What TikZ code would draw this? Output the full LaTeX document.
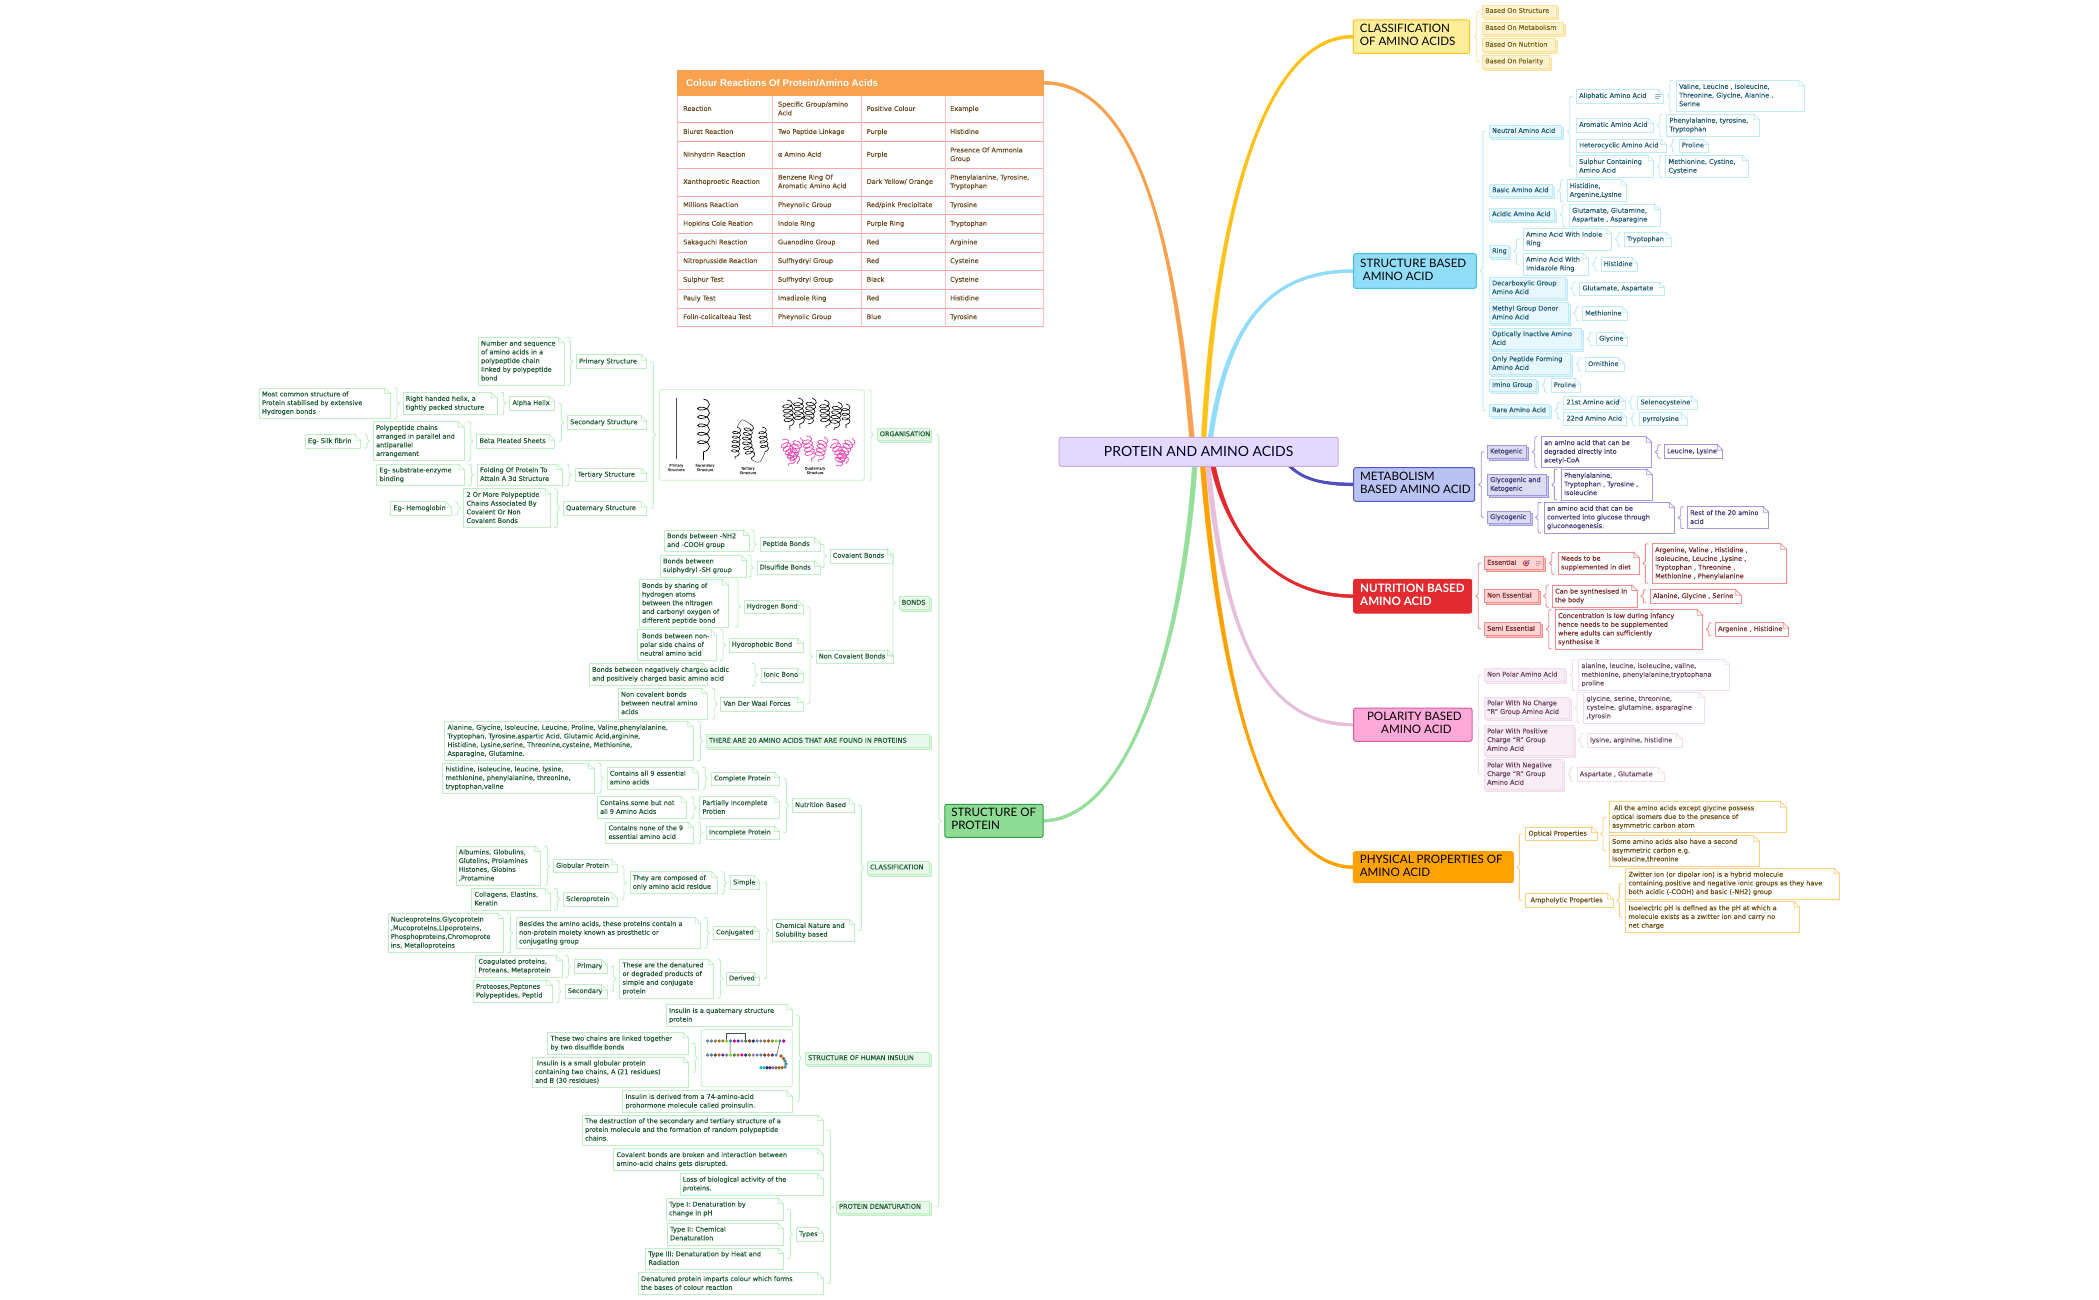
\documentclass[tikz,border=0pt]{standalone}
\usepackage{fontspec}
\setmainfont{DejaVu Sans}[FakeBold=0.22]
\newfontfamily\ttl{Lato}
\newfontfamily\hdr{Liberation Sans}
\usetikzlibrary{calc,backgrounds,decorations.pathmorphing}
\newcommand\sm{\fontsize{6.55}{8.7}\selectfont}
\definecolor{cb}{HTML}{BFF0C4}\definecolor{ct}{HTML}{1F5D34}\definecolor{cf}{HTML}{E8F8EA}
\definecolor{tabt}{HTML}{6B4A20}\definecolor{tabl}{HTML}{FFA3A3}\definecolor{pinkc}{HTML}{E64FB4}
\definecolor{rootb}{HTML}{CDA9E0}\definecolor{rootf}{HTML}{E3D9FE}
\definecolor{yb}{HTML}{FFC21C}\definecolor{yf}{HTML}{FFEE99}
\definecolor{bb}{HTML}{3FC0EA}\definecolor{bf}{HTML}{8FDDF8}
\definecolor{ib}{HTML}{5656C8}\definecolor{if}{HTML}{B9C3F3}
\definecolor{rb}{HTML}{E32B2F}
\definecolor{pb}{HTML}{DD5C9E}\definecolor{pf}{HTML}{FFA9D8}
\definecolor{ob}{HTML}{FFA200}
\definecolor{gb}{HTML}{2E9E46}\definecolor{gf}{HTML}{8EDC94}
\definecolor{tabh}{HTML}{F8A24F}
\definecolor{cy}{HTML}{FFC21C}\definecolor{cbl}{HTML}{91DCFA}\definecolor{cin}{HTML}{4F4FC0}
\definecolor{cre}{HTML}{E32B2F}\definecolor{cpi}{HTML}{E5BFDC}\definecolor{cor}{HTML}{FFA200}\definecolor{cgr}{HTML}{95DE9B}
\definecolor{tgt}{HTML}{2F7FD0}
\definecolor{d0}{HTML}{5E8CA8}\definecolor{d1}{HTML}{7B7B9B}\definecolor{d2}{HTML}{8C7A3C}\definecolor{d3}{HTML}{A5622C}
\definecolor{d4}{HTML}{6F8F3C}\definecolor{d5}{HTML}{9ACD32}\definecolor{d6}{HTML}{3E8E8E}\definecolor{d7}{HTML}{C000A0}
\definecolor{d8}{HTML}{5B2A86}\definecolor{d9}{HTML}{8E7CC3}\definecolor{d10}{HTML}{4B7F4B}\definecolor{d11}{HTML}{7A3B2E}
\definecolor{d12}{HTML}{2E2E5C}\definecolor{d13}{HTML}{22B8C8}
\newcommand\celltxt[1]{\raisebox{-1.1pt}{\begin{tabular}{@{}l@{}}#1\end{tabular}}}
\tikzset{
 boxbase/.style={rectangle,outer sep=0pt,inner sep=0pt,font=\sm,text=ct,line width=0.8pt},
 brc/.style={draw=cb,line width=0.9pt,line join=round},
 cell/.style={anchor=west,inner sep=0pt,font=\sm,text=tabt},
 titlebox/.style={rectangle,outer sep=0pt,inner sep=0pt,rounded corners=2pt,line width=1pt,font=\ttl\fontsize{11.6}{13}\selectfont},
 tinylab/.style={font=\fontsize{3.6}{4.4}\selectfont,align=center,inner sep=0pt,text=black!70},
 coilb/.style={decorate,decoration={coil,aspect=.55,segment length=4.6pt,amplitude=#1},draw=black,line width=0.6pt},
 coilc/.style={decorate,decoration={coil,aspect=.55,segment length=8.4pt,amplitude=#1},draw=black,line width=0.7pt},
 coilp/.style={decorate,decoration={coil,aspect=.55,segment length=4pt,amplitude=#1},draw=pinkc,line width=0.7pt}
}
% note box: white with folded corner
\newcommand\nbx[6]{%
 \pgfmathsetmacro\bw{#4-#2}\pgfmathsetmacro\bh{#5-#3}%
 \node[boxbase,draw=cb,fill=white,minimum width=\bw pt,minimum height=\bh pt] (#1) at ({(#2+#4)/2},{(#3+#5)/2})
   {\makebox[\bw pt][l]{\hspace{2.8pt}\celltxt{#6}}};
 \fill[white] ($(#1.north east)+(-5.5,-0.6)$) -- ($(#1.north east)+(0.6,-0.6)$) -- ($(#1.north east)+(0.6,5.5)$) -- cycle;
 \draw[cb,line width=0.7pt] ($(#1.north east)+(-5.5,0)$) -- ($(#1.north east)+(0,5.5)$) -- ($(#1.north east)+(-5.5,5.5)$) -- cycle;
}
% filled box with offset shadow (coordinates include the shadow)
\newcommand\fbx[6]{%
 \pgfmathsetmacro\bw{#4-#2-2}\pgfmathsetmacro\bh{#5-#3-2}%
 \draw[cb,fill=cf!75!cb,line width=0.7pt] (#2+2,#3+2) rectangle (#4,#5);
 \node[boxbase,draw=cb,fill=cf,minimum width=\bw pt,minimum height=\bh pt] (#1) at ({(#2+#4-2)/2},{(#3+#5-2)/2})
   {\makebox[\bw pt][l]{\hspace{2.8pt}\celltxt{#6}}};
}
% main topic box
\newcommand\mbx[9]{%
 \pgfmathsetmacro\bw{#4-#2}\pgfmathsetmacro\bh{#5-#3}%
 \node[titlebox,draw=#7,fill=#6,text=#8,minimum width=\bw pt,minimum height=\bh pt] (#1) at ({(#2+#4)/2},{(#3+#5)/2})
   {\makebox[\bw pt][l]{\hspace{6.5pt}\celltxt{#9}}};
}
% braces: parent to the right of its children
\newcommand\BL[3]{\draw[brc] let \p1=(#1.west),\p2=(#2.center),\p3=(#3.center) in
 (\x1-9pt,\y2) .. controls (\x1-6pt,\y2) .. (\x1-6pt,\y2-3pt) -- (\x1-6pt,\y1+2pt) -- (\x1-3.5pt,\y1) -- (\x1-6pt,\y1-2pt) -- (\x1-6pt,\y3+3pt) .. controls (\x1-6pt,\y3) .. (\x1-9pt,\y3);}
\newcommand\BLs[2]{\draw[brc] let \p1=(#1.west),\p2=(#2.north),\p3=(#2.south) in
 (\x1-9pt,\y2) .. controls (\x1-6pt,\y2) .. (\x1-6pt,\y2-3pt) -- (\x1-6pt,\y1+2pt) -- (\x1-3.5pt,\y1) -- (\x1-6pt,\y1-2pt) -- (\x1-6pt,\y3+3pt) .. controls (\x1-6pt,\y3) .. (\x1-9pt,\y3);}
% braces: parent to the left of its children
\newcommand\BR[4][6]{\draw[brc] let \p1=(#2.east),\p2=(#3.center),\p3=(#4.center) in
 (\x1+#1pt+3pt,\y2) .. controls (\x1+#1pt,\y2) .. (\x1+#1pt,\y2-3pt) -- (\x1+#1pt,\y1+2pt) -- (\x1+#1pt-2.5pt,\y1) -- (\x1+#1pt,\y1-2pt) -- (\x1+#1pt,\y3+3pt) .. controls (\x1+#1pt,\y3) .. (\x1+#1pt+3pt,\y3);}
\newcommand\BRs[3][6]{\draw[brc] let \p1=(#2.east),\p2=(#3.north),\p3=(#3.south) in
 (\x1+#1pt+3pt,\y2) .. controls (\x1+#1pt,\y2) .. (\x1+#1pt,\y2-3pt) -- (\x1+#1pt,\y1+2pt) -- (\x1+#1pt-2.5pt,\y1) -- (\x1+#1pt,\y1-2pt) -- (\x1+#1pt,\y3+3pt) .. controls (\x1+#1pt,\y3) .. (\x1+#1pt+3pt,\y3);}
% tapered branch
\newcommand\cur[5]{\draw[#1,line width=3pt] (#2) .. controls (#3) and (#4) .. (#5);
 \draw[#1,fill=#1,line width=0.2pt] ($(#2)+(-2.5,0)$) .. controls ($(#3)+(-2.5,0)$) and ($(#4)+(0,-1.5)$) .. ($(#5)+(0,-1.5)$) -- ($(#5)+(0,1.5)$) .. controls ($(#4)+(0,1.5)$) and ($(#3)+(2.5,0)$) .. ($(#2)+(2.5,0)$) -- cycle;}
\newcounter{trc}
\newcommand\trow[6]{\stepcounter{trc}%
 \node[cell] (r\arabic{trc}a) at (683,{(#1+#2)/2}) {\celltxt{#3}};
 \node[cell] (r\arabic{trc}b) at (777.8,{(#1+#2)/2}) {\celltxt{#4}};
 \node[cell] (r\arabic{trc}c) at (866.5,{(#1+#2)/2}) {\celltxt{#5}};
 \node[cell] (r\arabic{trc}d) at (950,{(#1+#2)/2}) {\celltxt{#6}};
}
\begin{document}
\begin{tikzpicture}[x=1pt,y=-1pt]
\useasboundingbox (0,0) rectangle (2099,1300);
\begin{pgfonlayer}{background}\fill[white] (0,0) rectangle (2099,1300);\end{pgfonlayer}

% ---------- main nodes
\node[titlebox,draw=rootb,fill=rootf,text=black!85!blue,minimum width=279pt,minimum height=29pt,font=\ttl\fontsize{14}{15}\selectfont] (root) at (1198.6,451.8) {\raisebox{-0.8pt}{PROTEIN AND AMINO ACIDS}};
\mbx{mclass}{1353.3}{20}{1469.7}{53.3}{yf}{yb}{black}{CLASSIFICATION\\OF AMINO ACIDS}
\mbx{mstruct}{1353.7}{253.7}{1476.3}{288.3}{bf}{bb}{black}{STRUCTURE BASED\\\hspace*{2.7pt}AMINO ACID}
\mbx{mmeta}{1353.7}{467.7}{1474.7}{501.3}{if}{ib}{black}{METABOLISM\\BASED AMINO ACID}
\mbx{mnutr}{1353.7}{579.3}{1471.7}{613}{rb}{rb}{white}{\bfseries NUTRITION BASED\\\bfseries AMINO ACID}
\mbx{mpol}{1353.7}{708}{1472}{741.3}{pf}{pb}{black}{\hspace*{6.8pt}POLARITY BASED\\\hspace*{21pt}AMINO ACID}
\mbx{mphys}{1353.3}{851.7}{1513.3}{882.7}{ob}{ob}{black}{PHYSICAL PROPERTIES OF\\AMINO ACID}
\mbx{mprot}{944.8}{804.3}{1043}{837.3}{gf}{gb}{black}{STRUCTURE OF\\PROTEIN}

% ---------- table
\node[rectangle,fill=tabh,outer sep=0pt,inner sep=0pt,minimum width=366.4pt,minimum height=25.7pt] (thead) at (860.5,82.85) {};
\node[anchor=west,inner sep=0pt,text=white,font=\hdr\bfseries\fontsize{9.7}{11}\selectfont] (ttitle) at (686,83) {Colour Reactions Of Protein/Amino Acids};
\foreach \y in {122.7,141.7,168.3,196,214.7,233.3,252,270.7,289.3,308,326.7}{\draw[tabl,line width=0.7pt] (677.3,\y) -- (1043.7,\y);}
\foreach \x in {677.3,772.7,861.3,945,1043.7}{\draw[tabl!70,line width=0.8pt] (\x,95.7) -- (\x,326.7);}
\trow{95.7}{122.7}{Reaction}{Specific Group/amino\\Acid}{Positive Colour}{Example}
\trow{122.7}{141.7}{Biuret Reaction}{Two Peptide Linkage}{Purple}{Histidine}
\trow{141.7}{168.3}{Ninhydrin Reaction}{α Amino Acid}{Purple}{Presence Of Ammonia\\Group}
\trow{168.3}{196}{Xanthoproetic Reaction}{Benzene Ring Of\\Aromatic Amino Acid}{Dark Yellow/ Orange}{Phenylalanine, Tyrosine,\\Tryptophan}
\trow{196}{214.7}{Millions Reaction}{Pheynolic Group}{Red/pink Precipitate}{Tyrosine}
\trow{214.7}{233.3}{Hopkins Cole Reation}{Indole Ring}{Purple Ring}{Tryptophan}
\trow{233.3}{252}{Sakaguchi Reaction}{Guanodino Group}{Red}{Arginine}
\trow{252}{270.7}{Nitroprusside Reaction}{Sulfhydryl Group}{Red}{Cysteine}
\trow{270.7}{289.3}{Sulphur Test}{Sulfhydryl Group}{Black}{Cysteine}
\trow{289.3}{308}{Pauly Test}{Imadizole Ring}{Red}{Histidine}
\trow{308}{326.7}{Folin-colicalteau Test}{Pheynolic Group}{Blue}{Tyrosine}

% ---------- classification (yellow)
\definecolor{cb}{HTML}{FFE29A}\definecolor{ct}{HTML}{7A6418}\definecolor{cf}{HTML}{FFF3CF}
\fbx{c1}{1482.3}{5}{1558.7}{19.3}{Based On Structure}
\fbx{c2}{1482.3}{22}{1565.7}{36.3}{Based On Metabolism}
\fbx{c3}{1482.3}{38.7}{1557.3}{53.3}{Based On Nutrition}
\fbx{c4}{1482.3}{55.3}{1551.7}{70}{Based On Polarity}
\BR[7]{mclass}{c1}{c4}

% ---------- structure based (blue)
\definecolor{cb}{HTML}{BDEBFC}\definecolor{ct}{HTML}{1F5C74}\definecolor{cf}{HTML}{E6F7FE}
\fbx{s1}{1489.3}{125}{1563.7}{139.3}{Neutral Amino Acid}
\nbx{s1a}{1576.3}{89.3}{1663.7}{103}{Aliphatic Amino Acid}
\nbx{s1a1}{1676.3}{80.3}{1804.3}{111.3}{Valine, Leucine , Isoleucine,\\Threonine, Glycine, Alanine ,\\Serine}
\nbx{s1b}{1576.3}{118.3}{1653.7}{132}{Aromatic Amino Acid}
\nbx{s1b1}{1666.7}{114.3}{1759.3}{136.3}{Phenylalanine, tyrosine,\\Tryptophan}
\nbx{s1c}{1576.3}{139}{1666.3}{152.3}{Heterocyclic Amino Acid}
\nbx{s1c1}{1679}{139}{1708.7}{152.3}{Proline}
\nbx{s1d}{1576.3}{155.3}{1653.7}{177.7}{Sulphur Containing\\Amino Acid}
\nbx{s1d1}{1665.7}{155.3}{1748}{177.7}{Methionine, Cystine,\\Cysteine}
\fbx{s2}{1489.3}{184.3}{1554.3}{198.7}{Basic Amino Acid}
\nbx{s21}{1567}{179.7}{1626.7}{201.7}{Histidine,\\Argenine,Lysine}
\fbx{s3}{1489.3}{208.3}{1556.7}{222.7}{Acidic Amino Acid}
\nbx{s31}{1569.3}{204}{1660}{226.7}{Glutamate, Glutamine,\\Aspartate , Asparagine}
\fbx{s4}{1489.3}{245.3}{1510.3}{259.3}{Ring}
\nbx{s4a}{1523.3}{228.3}{1611.7}{250.3}{Amino Acid With Indole\\Ring}
\nbx{s4a1}{1624.3}{232.7}{1671.7}{246.3}{Tryptophan}
\nbx{s4b}{1523.3}{253.3}{1588.7}{275.3}{Amino Acid With\\Imidazole Ring}
\nbx{s4b1}{1601}{257.7}{1637.7}{271}{Histidine}
\fbx{s5}{1489.3}{277.3}{1567}{300.7}{Decarboxylic Group\\Amino Acid}
\nbx{s51}{1579.7}{282}{1664.7}{295.3}{Glutamate, Aspartate}
\fbx{s6}{1489.3}{302.7}{1570}{325.7}{Methyl Group Donor\\Amino Acid}
\nbx{s61}{1582.3}{306.7}{1627.7}{320.7}{Methionine}
\fbx{s7}{1489.3}{328.3}{1583.7}{351.3}{Optically Inactive Amino\\Acid}
\nbx{s71}{1596.3}{332}{1627.7}{345.7}{Glycine}
\fbx{s8}{1489.3}{353.3}{1572.7}{376.3}{Only Peptide Forming\\Amino Acid}
\nbx{s81}{1585.3}{357.7}{1624.3}{371}{Ornithine}
\fbx{s9}{1489.3}{379.3}{1538.3}{393.3}{Imino Group}
\nbx{s91}{1551}{378.7}{1580.7}{392.3}{Proline}
\fbx{s10}{1489.3}{404.3}{1551.3}{418.7}{Rare Amino Acid}
\nbx{s10a}{1563.7}{396}{1625}{409.3}{21st Amino acid}
\nbx{s10a1}{1637.7}{396}{1697}{409.3}{Selenocysteine}
\nbx{s10b}{1563.7}{412}{1626.7}{425.7}{22nd Amino Acid}
\nbx{s10b1}{1639.7}{412.7}{1687}{425.7}{pyrrolysine}
\BR[6.5]{mstruct}{s1}{s10}
\BR[8]{s1}{s1a}{s1d}
\BRs{s1a}{s1a1}\BRs{s1b}{s1b1}\BRs{s1c}{s1c1}\BRs{s1d}{s1d1}
\BRs[8]{s2}{s21}\BRs[8]{s3}{s31}\BR[8]{s4}{s4a}{s4b}\BRs{s4a}{s4a1}\BRs{s4b}{s4b1}
\BRs[8]{s5}{s51}\BRs[8]{s6}{s61}\BRs[8]{s7}{s71}\BRs[8]{s8}{s81}\BRs[8]{s9}{s91}
\BR[8]{s10}{s10a}{s10b}\BRs{s10a}{s10a1}\BRs{s10b}{s10b1}
\draw[ct!45,line width=0.6pt] (1655,94) -- (1660.7,94) (1655,96) -- (1660.7,96) (1655,98) -- (1658.5,98);

% ---------- metabolism (indigo)
\definecolor{cb}{HTML}{9C99DD}\definecolor{ct}{HTML}{3B3775}\definecolor{cf}{HTML}{DCDBF2}
\fbx{k1}{1487.3}{445.3}{1528.7}{460}{Ketogenic}
\nbx{k11}{1541.3}{436.7}{1651.7}{467.3}{an amino acid that can be\\degraded directly into\\acetyl-CoA}
\nbx{k12}{1664.3}{444.7}{1722.7}{458.3}{Leucine, Lysine}
\fbx{k2}{1487.3}{474}{1548.3}{497.3}{Glycogenic and\\Ketogenic}
\nbx{k21}{1561.3}{469.3}{1652.3}{500}{Phenylalanine,\\Tryptophan , Tyrosine ,\\Isoleucine}
\fbx{k3}{1487.3}{511}{1532}{525.7}{Glycogenic}
\nbx{k31}{1544.3}{502.3}{1674.7}{533}{an amino acid that can be\\converted into glucose through\\gluconeogenesis.}
\nbx{k32}{1687.3}{506.7}{1768.7}{528.7}{Rest of the 20 amino\\acid}
\BR[6.5]{mmeta}{k1}{k3}
\BRs[8]{k1}{k11}\BRs{k11}{k12}\BRs[8]{k2}{k21}\BRs[8]{k3}{k31}\BRs{k31}{k32}

% ---------- nutrition (red)
\definecolor{cb}{HTML}{F58C8C}\definecolor{ct}{HTML}{7A2A2A}\definecolor{cf}{HTML}{FBD3D3}
\fbx{n1}{1484.3}{556.3}{1545.7}{571.7}{Essential}
\nbx{n11}{1558.3}{552.3}{1639.3}{574.3}{Needs to be\\supplemented in diet}
\nbx{n12}{1652.3}{543.7}{1786.3}{583.3}{Argenine, Valine , Histidine ,\\Isoleucine, Leucine ,Lysine ,\\Tryptophan , Threonine ,\\Methionine , Phenylalanine}
\fbx{n2}{1484.3}{589.3}{1540}{604.3}{Non Essential}
\nbx{n21}{1552.3}{585}{1637.3}{607.3}{Can be synthesised in\\the body}
\nbx{n22}{1650.3}{589.7}{1741.3}{603}{Alanine, Glycine , Serine}
\fbx{n3}{1484.3}{622.3}{1542.7}{637.7}{Semi Essential}
\nbx{n31}{1555.3}{609.7}{1702.7}{649}{Concentration is low during infancy\\hence needs to be supplemented\\where adults can sufficiently\\synthesise it}
\nbx{n32}{1715.3}{622.7}{1788.7}{636}{Argenine , Histidine}
\BR[6.5]{mnutr}{n1}{n3}
\BRs[8]{n1}{n11}\BRs{n11}{n12}\BRs[8]{n2}{n21}\BRs{n21}{n22}\BRs[8]{n3}{n31}\BRs{n31}{n32}
\draw[rb,line width=0.7pt] (1526,563.3) circle (2.6pt) (1526,563.3) circle (1pt);
\draw[tgt,line width=0.7pt] (1526,563.3) -- (1529.5,560);
\draw[ct!45,line width=0.6pt] (1536,561.3) -- (1541,561.3) (1536,563.3) -- (1541,563.3) (1536,565.3) -- (1539,565.3);

% ---------- polarity (pink)
\definecolor{cb}{HTML}{F3DCEB}\definecolor{ct}{HTML}{6D4560}\definecolor{cf}{HTML}{F8EDF5}
\fbx{p1}{1484.3}{668.3}{1566.3}{683.3}{Non Polar Amino Acid}
\nbx{p11}{1578.7}{659.3}{1729.7}{690.7}{alanine, leucine, isoleucine, valine,\\methionine, phenylalanine,tryptophana\\proline}
\fbx{p2}{1484.3}{697}{1571}{720.7}{Polar With No Charge\\"R" Group Amino Acid}
\nbx{p21}{1583.7}{692.3}{1704.7}{723.3}{glycine, serine, threonine,\\cysteine, glutamine, asparagine\\,tyrosin}
\fbx{p3}{1484.3}{725.3}{1575}{757.3}{Polar With Positive\\Charge "R" Group\\Amino Acid}
\nbx{p31}{1587.3}{733.7}{1682}{747.3}{lysine, arginine, histidine}
\fbx{p4}{1484.3}{759.3}{1564.3}{791.3}{Polar With Negative\\Charge "R" Group\\Amino Acid}
\nbx{p41}{1577}{767.7}{1664}{781.3}{Aspartate , Glutamate}
\BR[6.5]{mpol}{p1}{p4}
\BRs[8]{p1}{p11}\BRs[8]{p2}{p21}\BRs[8]{p3}{p31}\BRs[8]{p4}{p41}

% ---------- physical (orange)
\definecolor{cb}{HTML}{FFCF7F}\definecolor{ct}{HTML}{6B4D10}\definecolor{cf}{HTML}{FFF3DC}
\nbx{h1}{1525.7}{827}{1597}{840.7}{Optical Properties}
\nbx{h11}{1609.3}{801.7}{1786}{832.7}{\hspace*{2pt}All the amino acids except glycine possess\\optical isomers due to the presence of\\asymmetric carbon atom}
\nbx{h12}{1609.3}{835.7}{1759.3}{866}{Some amino acids also have a second\\asymmetric carbon e.g.\\isoleucine,threonine}
\nbx{h2}{1525.7}{893.7}{1613.3}{907.3}{\hspace*{2pt}Ampholytic Properties}
\nbx{h21}{1625.7}{868.3}{1839.7}{899}{Zwitter ion (or dipolar ion) is a hybrid molecule\\containing positive and negative ionic groups as they have\\both acidic (-COOH) and basic (-NH2) group}
\nbx{h22}{1625.7}{901.7}{1799.7}{932.7}{Isoelectric pH is defined as the pH at which a\\molecule exists as a zwitter ion and carry no\\net charge}
\BR{mphys}{h1}{h2}\BR{h1}{h11}{h12}\BR{h2}{h21}{h22}

% ---------- structure of protein (green)
\definecolor{cb}{HTML}{BFF0C4}\definecolor{ct}{HTML}{1F5D34}\definecolor{cf}{HTML}{E8F8EA}
\fbx{org}{877}{428.3}{931.5}{442.7}{ORGANISATION}
\node[rectangle,rounded corners=2pt,draw=cb,fill=white,line width=0.8pt,outer sep=0pt,minimum width=205pt,minimum height=90.6pt] (orgimg) at (761.8,435) {};
\nbx{o1}{576.3}{354.7}{646.7}{368.7}{Primary Structure}
\nbx{o11}{478.3}{337.3}{564}{385.3}{Number and sequence\\of amino acids in a\\polypeptide chain\\linked by polypeptide\\bond}
\nbx{o2}{567.3}{415.7}{646.7}{429.3}{Secondary Structure}
\nbx{o2a}{509.7}{396.3}{554.7}{410.3}{Alpha Helix}
\nbx{o2a1}{403}{392.3}{497}{414.7}{Right handed helix, a\\tightly packed structure}
\nbx{o2a2}{259.3}{388}{390.3}{418.7}{Most common structure of\\Protein stabilised by extensive\\Hydrogen bonds}
\nbx{o2b}{476.7}{434.7}{554.7}{448}{Beta Pleated Sheets}
\nbx{o2b1}{373.3}{421.7}{464}{460.7}{Polypeptide chains\\arranged in parallel and\\antiparallel\\arrangement}
\nbx{o2b2}{305.3}{434.7}{360.7}{448}{Eg- Silk fibrin}
\nbx{o3}{575}{468}{646.7}{481.7}{Tertiary Structure}
\nbx{o31}{477.3}{464}{562.3}{485.7}{Folding Of Protein To\\Attain A 3d Structure}
\nbx{o32}{376.7}{464.3}{464.3}{485.7}{Eg- substrate-enzyme\\binding}
\nbx{o4}{563.3}{501.7}{646.7}{515}{Quaternary Structure}
\nbx{o41}{463.7}{488.7}{550.7}{527.7}{2 Or More Polypeptide\\Chains Associated By\\Covalent Or Non\\Covalent Bonds}
\nbx{o42}{390.7}{501.7}{451.3}{515}{Eg- Hemoglobin}
\BLs{org}{orgimg}\BL{orgimg}{o1}{o4}
\BLs{o1}{o11}\BL{o2}{o2a}{o2b}\BLs{o2a}{o2a1}\BLs{o2a1}{o2a2}\BLs{o2b}{o2b1}\BLs{o2b1}{o2b2}
\BLs{o3}{o31}\BLs{o31}{o32}\BLs{o4}{o41}\BLs{o41}{o42}

% picture: protein structure levels
\draw[black!70,line width=0.9pt] (676.3,398) -- (676.3,459);
\draw[coilc=6pt] (703.5,399) -- (703.5,460);
\node[tinylab] (lab1) at (676.3,467.5) {Primary\\Structure};
\node[tinylab] (lab2) at (705,467.5) {Secondary\\Structure};
\node[tinylab] (lab3) at (748,470.5) {Tertiary\\Structure};
\node[tinylab] (lab4) at (815,470.5) {Quaternary\\Structure};
\draw[coilb=4pt] (737,427) -- (735,459);
\draw[coilb=4.5pt] (750,424) .. controls (746,440) .. (752,460);
\draw[coilb=4pt] (762,427) -- (765,452);
\draw[black!70,line width=0.5pt] (737,427) .. controls (742,418) .. (750,424) (752,460) .. controls (760,464) .. (765,452);
\draw[coilb=5pt] (787,400) -- (790,430);
\draw[coilb=5pt] (798,398) -- (800,428);
\draw[coilb=5pt] (812,398) -- (808,424);
\draw[coilb=5pt] (824,400) -- (826,428);
\draw[coilb=5pt] (838,402) -- (834,430);
\draw[coilb=4pt] (846,404) -- (846,428);
\draw[coilp=5pt] (782,440) -- (798,464);
\draw[coilp=5pt] (800,438) -- (788,466);
\draw[coilp=5pt] (806,436) -- (812,462);
\draw[coilp=5pt] (824,437) -- (818,462);
\draw[coilp=5pt] (832,440) -- (846,464);
\draw[coilp=5pt] (852,438) -- (836,466);

\nbx{b1}{664.3}{530}{749}{551.7}{Bonds between -NH2\\and -COOH group}
\nbx{b2}{660.3}{555}{746.7}{577}{Bonds between\\sulphydryl -SH group}
\nbx{b3}{639.3}{579.7}{728}{627.3}{Bonds by sharing of\\hydrogen atoms\\between the nitrogen\\and carbonyl oxygen of\\different peptide bond}
\nbx{b4}{637.3}{629.7}{716.7}{660.7}{\hspace*{2pt}Bonds between non-\\polar side chains of\\neutral amino acid}
\nbx{b5}{589.3}{663.3}{707.7}{685.7}{Bonds between negatively charged acidic\\and positively charged basic amino acid}
\nbx{b6}{618.3}{688.3}{707.3}{719}{Non covalent bonds\\between neutral amino\\acids}
\nbx{bp}{760}{537.5}{820}{551}{Peptide Bonds}
\nbx{bd}{757}{561}{820}{574.5}{Disulfide Bonds}
\nbx{bc}{830}{549}{893}{563}{Covalent Bonds}
\nbx{bh}{744}{600}{803}{613.5}{Hydrogen Bond}
\nbx{bo}{729}{638}{803}{652}{Hydrophobic Bond}
\nbx{bi}{761}{668}{803}{682}{Ionic Bond}
\nbx{bv}{720.7}{697}{803}{711}{Van Der Waal Forces}
\nbx{bn}{816}{650}{893}{663.5}{Non Covalent Bonds}
\fbx{bonds}{899}{596.7}{931.5}{611.3}{BONDS}
\BL{bonds}{bc}{bn}\BL{bc}{bp}{bd}\BLs{bp}{b1}\BLs{bd}{b2}\BL{bn}{bh}{bv}
\BLs{bh}{b3}\BLs{bo}{b4}\BLs{bi}{b5}\BLs{bv}{b6}

\fbx{there}{706.3}{734.7}{931.7}{749.3}{THERE ARE 20 AMINO ACIDS THAT ARE FOUND IN PROTEINS}
\nbx{t1}{444.7}{721.3}{693.3}{760.7}{Alanine, Glycine, Isoleucine, Leucine, Proline, Valine,phenylalanine,\\Tryptophan, Tyrosine,aspartic Acid, Glutamic Acid,arginine,\\Histidine, Lysine,serine, Threonine,cysteine, Methionine,\\Asparagine, Glutamine.}
\BLs{there}{t1}

\fbx{cl}{867.3}{861.3}{931.7}{876}{CLASSIFICATION}
\nbx{cn}{792.3}{798.7}{854.7}{812}{Nutrition Based}
\nbx{cn1}{711.3}{772}{779.7}{785.3}{Complete Protein}
\nbx{cn11}{607}{767.3}{698.3}{789.3}{Contains all 9 essential\\amino acids}
\nbx{cn12}{442.7}{763.3}{594}{793.3}{histidine, isoleucine, leucine, lysine,\\methionine, phenylalanine, threonine,\\tryptophan,valine}
\nbx{cn2}{699.7}{796.7}{779.7}{818.7}{Partially Incomplete\\Protien}
\nbx{cn21}{597.3}{796.7}{686.7}{818.7}{Contains some but not\\all 9 Amino Acids}
\nbx{cn3}{706.3}{826}{779.7}{839.3}{Incomplete Protein}
\nbx{cn31}{605.7}{822}{693.7}{843.7}{Contains none of the 9\\essential amino acid}
\nbx{cc}{772.7}{919.3}{854.7}{941.7}{Chemical Nature and\\Solubility based}
\nbx{cs}{730.3}{875.7}{759.7}{889.7}{Simple}
\nbx{cs1}{630}{871.7}{717.3}{893.7}{They are composed of\\only amino acid residue}
\nbx{cg}{553.3}{859.3}{617.3}{872.7}{Globular Protein}
\nbx{cg1}{456}{846}{540.3}{885.3}{Albumins, Globulins,\\Glutelins, Prolamines\\Histones, Globins\\,Protamine}
\nbx{csc}{563.3}{892.7}{617.3}{906}{Scleroprotein}
\nbx{csc1}{471.7}{888.3}{550.7}{910.3}{Collagens, Elastins,\\Keratin}
\nbx{cj}{713.3}{926}{759.7}{939.3}{Conjugated}
\nbx{cj1}{516.3}{917.7}{700.7}{948.3}{Besides the amino acids, these proteins contain a\\non-protein moiety known as prosthetic or\\conjugating group}
\nbx{cj2}{388}{913}{503.7}{952.7}{Nucleoproteins,Glycoprotein\\,Mucoproteins,Lipoproteins,\\Phosphoproteins,Chromoprote\\ins, Metalloproteins}
\nbx{cd}{726.3}{972}{759.7}{985.3}{Derived}
\nbx{cd1}{619.7}{959}{713.7}{998.3}{These are the denatured\\or degraded products of\\simple and conjugate\\protein}
\nbx{cdp}{574.3}{959.3}{607}{973.3}{Primary}
\nbx{cdp1}{475.7}{955.3}{562}{977.3}{Coagulated proteins,\\Proteans, Metaprotein}
\nbx{cds}{565}{984.7}{607}{998}{Secondary}
\nbx{cds1}{473.3}{980}{552.3}{1002.7}{Proteoses,Peptones\\Polypeptides, Peptid}
\BL{cl}{cn}{cc}\BL{cn}{cn1}{cn3}\BLs{cn1}{cn11}\BLs{cn11}{cn12}\BLs{cn2}{cn21}\BLs{cn3}{cn31}
\BL{cc}{cs}{cd}\BLs{cs}{cs1}\BL{cs1}{cg}{csc}\BLs{cg}{cg1}\BLs{csc}{csc1}
\BLs{cj}{cj1}\BLs{cj1}{cj2}\BLs{cd}{cd1}\BL{cd1}{cdp}{cds}\BLs{cdp}{cdp1}\BLs{cds}{cds1}

\fbx{ins}{805.3}{1052.3}{931.3}{1066.3}{STRUCTURE OF HUMAN INSULIN}
\nbx{i1}{666.3}{1004.3}{792.3}{1026.7}{Insulin is a quaternary structure\\protein}
\node[rectangle,rounded corners=2pt,draw=cb,fill=white,line width=0.8pt,outer sep=0pt,minimum width=91pt,minimum height=57pt] (insimg) at (746.8,1058.2) {};
\nbx{i2}{547.7}{1032.3}{688.7}{1054.3}{These two chains are linked together\\by two disulfide bonds}
\nbx{i3}{532.3}{1057}{688.7}{1087.7}{\hspace*{2pt}Insulin is a small globular protein\\containing two chains, A (21 residues)\\and B (30 residues)}
\nbx{i4}{622.7}{1090.7}{792.3}{1112.3}{Insulin is derived from a 74-amino-acid\\prohormone molecule called proinsulin.}
\BL{ins}{i1}{i4}\BL{insimg}{i2}{i3}
% picture: insulin chains
\draw[black!70,line width=0.5pt] (726.5,1041) -- (726.5,1033.3) -- (745.7,1033.3) -- (745.7,1041);
\draw[black!70,line width=0.5pt] (730,1041) -- (730,1055) (780,1041) -- (776.7,1055);
\foreach \i in {0,...,20}{\pgfmathtruncatemacro\c{mod(\i,13)}\fill[d\c] ({707.7+\i*3.8},1041) circle (1.8pt);}
\foreach \i in {0,...,18}{\pgfmathtruncatemacro\c{mod(\i*5+1,13)}\fill[d\c] ({707.7+\i*3.8},1055) circle (1.8pt);}
\foreach \xx/\yy/\c in {781/1056/d3,783.5/1058.5/d3,785/1061/d6,786/1064/d6,785/1067/d0,782/1067.7/d3,779/1067.7/d3,776/1067.7/d2,773/1067.7/d9,770/1067.7/d8,767/1067.7/d12,764/1067.7/d13,761/1067.7/d13}{\fill[\c] (\xx,\yy) circle (1.8pt);}

\fbx{den}{836.3}{1201}{931.3}{1215}{PROTEIN DENATURATION}
\nbx{d1}{582.3}{1115}{823.3}{1145.3}{The destruction of the secondary and tertiary structure of a\\protein molecule and the formation of random polypeptide\\chains.}
\nbx{d2}{613.7}{1148.7}{823.3}{1170.7}{Covalent bonds are broken and interaction between\\amino-acid chains gets disrupted.}
\nbx{d3}{680}{1173.3}{823.3}{1195.3}{Loss of biological activity of the\\proteins.}
\nbx{dt}{796.3}{1227.7}{823.3}{1241}{Types}
\nbx{dt1}{666.3}{1198.3}{783.7}{1220}{Type I: Denaturation by\\change in pH}
\nbx{dt2}{667.3}{1223.3}{783.7}{1245}{Type II: Chemical\\Denaturation}
\nbx{dt3}{645.7}{1248}{783.7}{1269.7}{Type III: Denaturation by Heat and\\Radiation}
\nbx{d5}{638.3}{1272.7}{823.3}{1294.7}{Denatured protein imparts colour which forms\\the bases of colour reaction}
\BL{den}{d1}{d5}\BL{dt}{dt1}{dt3}
\BL{mprot}{org}{den}

% ---------- branches
\begin{pgfonlayer}{background}
\coordinate (st) at ($(root.center)+(-5.6,0)$);
\coordinate (sy) at ($(root.center)+(4.5,0)$);
\coordinate (sb) at ($(root.center)+(10,0)$);
\coordinate (sg) at ($(root.center)+(-3,0)$);
\coordinate (so) at ($(root.center)+(3,0)$);
\coordinate (sp) at ($(root.center)+(8,0)$);
\coordinate (sr) at ($(root.center)+(12,0)$);
\coordinate (si) at ($(root.center)+(80,0)$);
\cur{tabh}{st}{1180,290}{1150,83}{thead.east}
\cur{cy}{sy}{1213,230}{1260,36}{mclass.west}
\cur{cbl}{sb}{1225,315}{1275,271}{mstruct.west}
\cur{cin}{si}{1295,480}{1320,484}{mmeta.west}
\cur{cre}{sr}{1222,530}{1270,596}{mnutr.west}
\cur{cpi}{sp}{1224,650}{1270,725}{mpol.west}
\cur{cor}{so}{1222,720}{1275,867}{mphys.west}
\cur{cgr}{sg}{1185,640}{1130,820}{mprot.east}
\end{pgfonlayer}
\end{tikzpicture}
\end{document}
